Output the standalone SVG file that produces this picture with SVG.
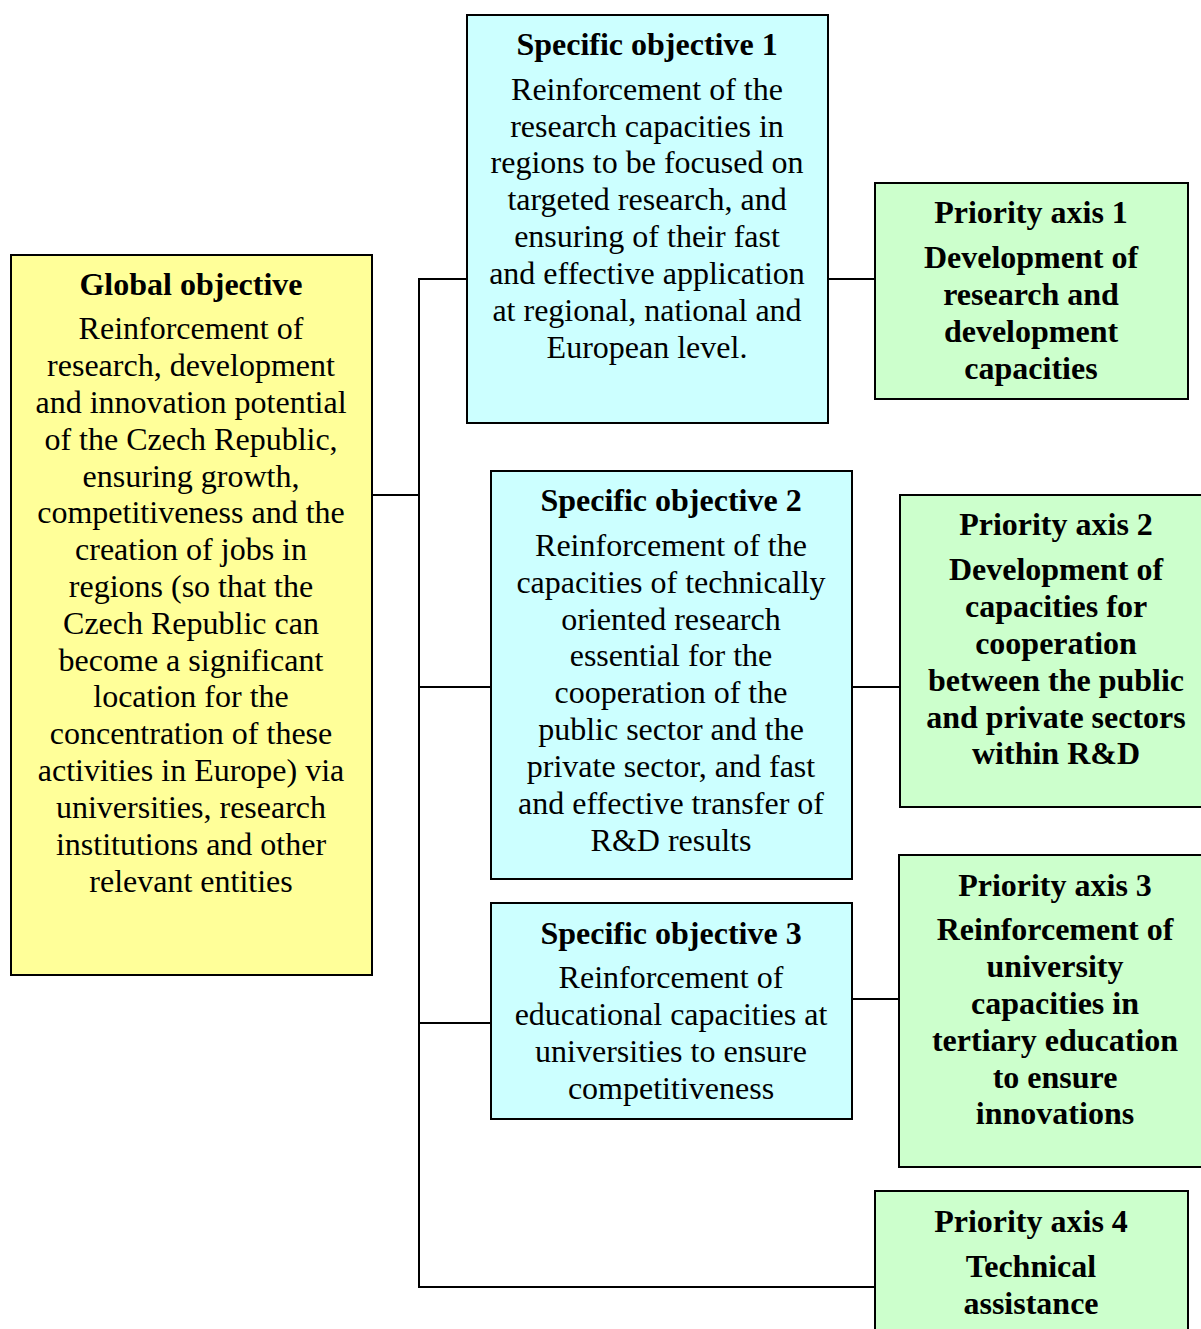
<svg xmlns="http://www.w3.org/2000/svg" width="1201" height="1329" viewBox="0 0 1201 1329">
<style>
.box{stroke:#000;stroke-width:2}
.g{fill:#FFFF99}.c{fill:#CCFFFF}.p{fill:#CCFFCC}
text{font-family:"Liberation Serif","Times New Roman",serif;font-size:32px;fill:#000;text-anchor:middle}
.b{font-weight:bold}
.conn line{stroke:#000;stroke-width:2}
</style>
<rect width="1201" height="1329" fill="#fff"/>
<g class="conn">
<line x1="372" y1="495" x2="419" y2="495"/>
<line x1="419" y1="278" x2="419" y2="1288"/>
<line x1="418" y1="279" x2="467" y2="279"/>
<line x1="418" y1="687" x2="491" y2="687"/>
<line x1="418" y1="1023" x2="491" y2="1023"/>
<line x1="418" y1="1287" x2="875" y2="1287"/>
<line x1="828" y1="279" x2="875" y2="279"/>
<line x1="852" y1="687" x2="900" y2="687"/>
<line x1="852" y1="999" x2="899" y2="999"/>
</g>
<g id="global">
<rect class="box g" x="11" y="255" width="361" height="720"/>
<text class="b" x="191" y="295">Global objective</text>
<text x="191" y="339">Reinforcement of</text>
<text x="191" y="376">research, development</text>
<text x="191" y="413">and innovation potential</text>
<text x="191" y="450">of the Czech Republic,</text>
<text x="191" y="487">ensuring growth,</text>
<text x="191" y="523">competitiveness and the</text>
<text x="191" y="560">creation of jobs in</text>
<text x="191" y="597">regions (so that the</text>
<text x="191" y="634">Czech Republic can</text>
<text x="191" y="671">become a significant</text>
<text x="191" y="707">location for the</text>
<text x="191" y="744">concentration of these</text>
<text x="191" y="781">activities in Europe) via</text>
<text x="191" y="818">universities, research</text>
<text x="191" y="855">institutions and other</text>
<text x="191" y="892">relevant entities</text>
</g>
<g id="so1">
<rect class="box c" x="467" y="15" width="361" height="408"/>
<text class="b" x="647" y="55">Specific objective 1</text>
<text x="647" y="100">Reinforcement of the</text>
<text x="647" y="137">research capacities in</text>
<text x="647" y="173">regions to be focused on</text>
<text x="647" y="210">targeted research, and</text>
<text x="647" y="247">ensuring of their fast</text>
<text x="647" y="284">and effective application</text>
<text x="647" y="321">at regional, national and</text>
<text x="647" y="358">European level.</text>
</g>
<g id="so2">
<rect class="box c" x="491" y="471" width="361" height="408"/>
<text class="b" x="671" y="511">Specific objective 2</text>
<text x="671" y="556">Reinforcement of the</text>
<text x="671" y="593">capacities of technically</text>
<text x="671" y="630">oriented research</text>
<text x="671" y="666">essential for the</text>
<text x="671" y="703">cooperation of the</text>
<text x="671" y="740">public sector and the</text>
<text x="671" y="777">private sector, and fast</text>
<text x="671" y="814">and effective transfer of</text>
<text x="671" y="851">R&amp;D results</text>
</g>
<g id="so3">
<rect class="box c" x="491" y="903" width="361" height="216"/>
<text class="b" x="671" y="944">Specific objective 3</text>
<text x="671" y="988">Reinforcement of</text>
<text x="671" y="1025">educational capacities at</text>
<text x="671" y="1062">universities to ensure</text>
<text x="671" y="1099">competitiveness</text>
</g>
<g id="pa1">
<rect class="box p" x="875" y="183" width="313" height="216"/>
<text class="b" x="1031" y="223">Priority axis 1</text>
<text class="b" x="1031" y="268">Development of</text>
<text class="b" x="1031" y="305">research and</text>
<text class="b" x="1031" y="342">development</text>
<text class="b" x="1031" y="379">capacities</text>
</g>
<g id="pa2">
<rect class="box p" x="900" y="495" width="313" height="312"/>
<text class="b" x="1056" y="535">Priority axis 2</text>
<text class="b" x="1056" y="580">Development of</text>
<text class="b" x="1056" y="617">capacities for</text>
<text class="b" x="1056" y="654">cooperation</text>
<text class="b" x="1056" y="691">between the public</text>
<text class="b" x="1056" y="728">and private sectors</text>
<text class="b" x="1056" y="764">within R&amp;D</text>
</g>
<g id="pa3">
<rect class="box p" x="899" y="855" width="313" height="312"/>
<text class="b" x="1055" y="896">Priority axis 3</text>
<text class="b" x="1055" y="940">Reinforcement of</text>
<text class="b" x="1055" y="977">university</text>
<text class="b" x="1055" y="1014">capacities in</text>
<text class="b" x="1055" y="1051">tertiary education</text>
<text class="b" x="1055" y="1088">to ensure</text>
<text class="b" x="1055" y="1124">innovations</text>
</g>
<g id="pa4">
<rect class="box p" x="875" y="1191" width="313" height="160"/>
<text class="b" x="1031" y="1232">Priority axis 4</text>
<text class="b" x="1031" y="1277">Technical</text>
<text class="b" x="1031" y="1314">assistance</text>
</g>
</svg>
